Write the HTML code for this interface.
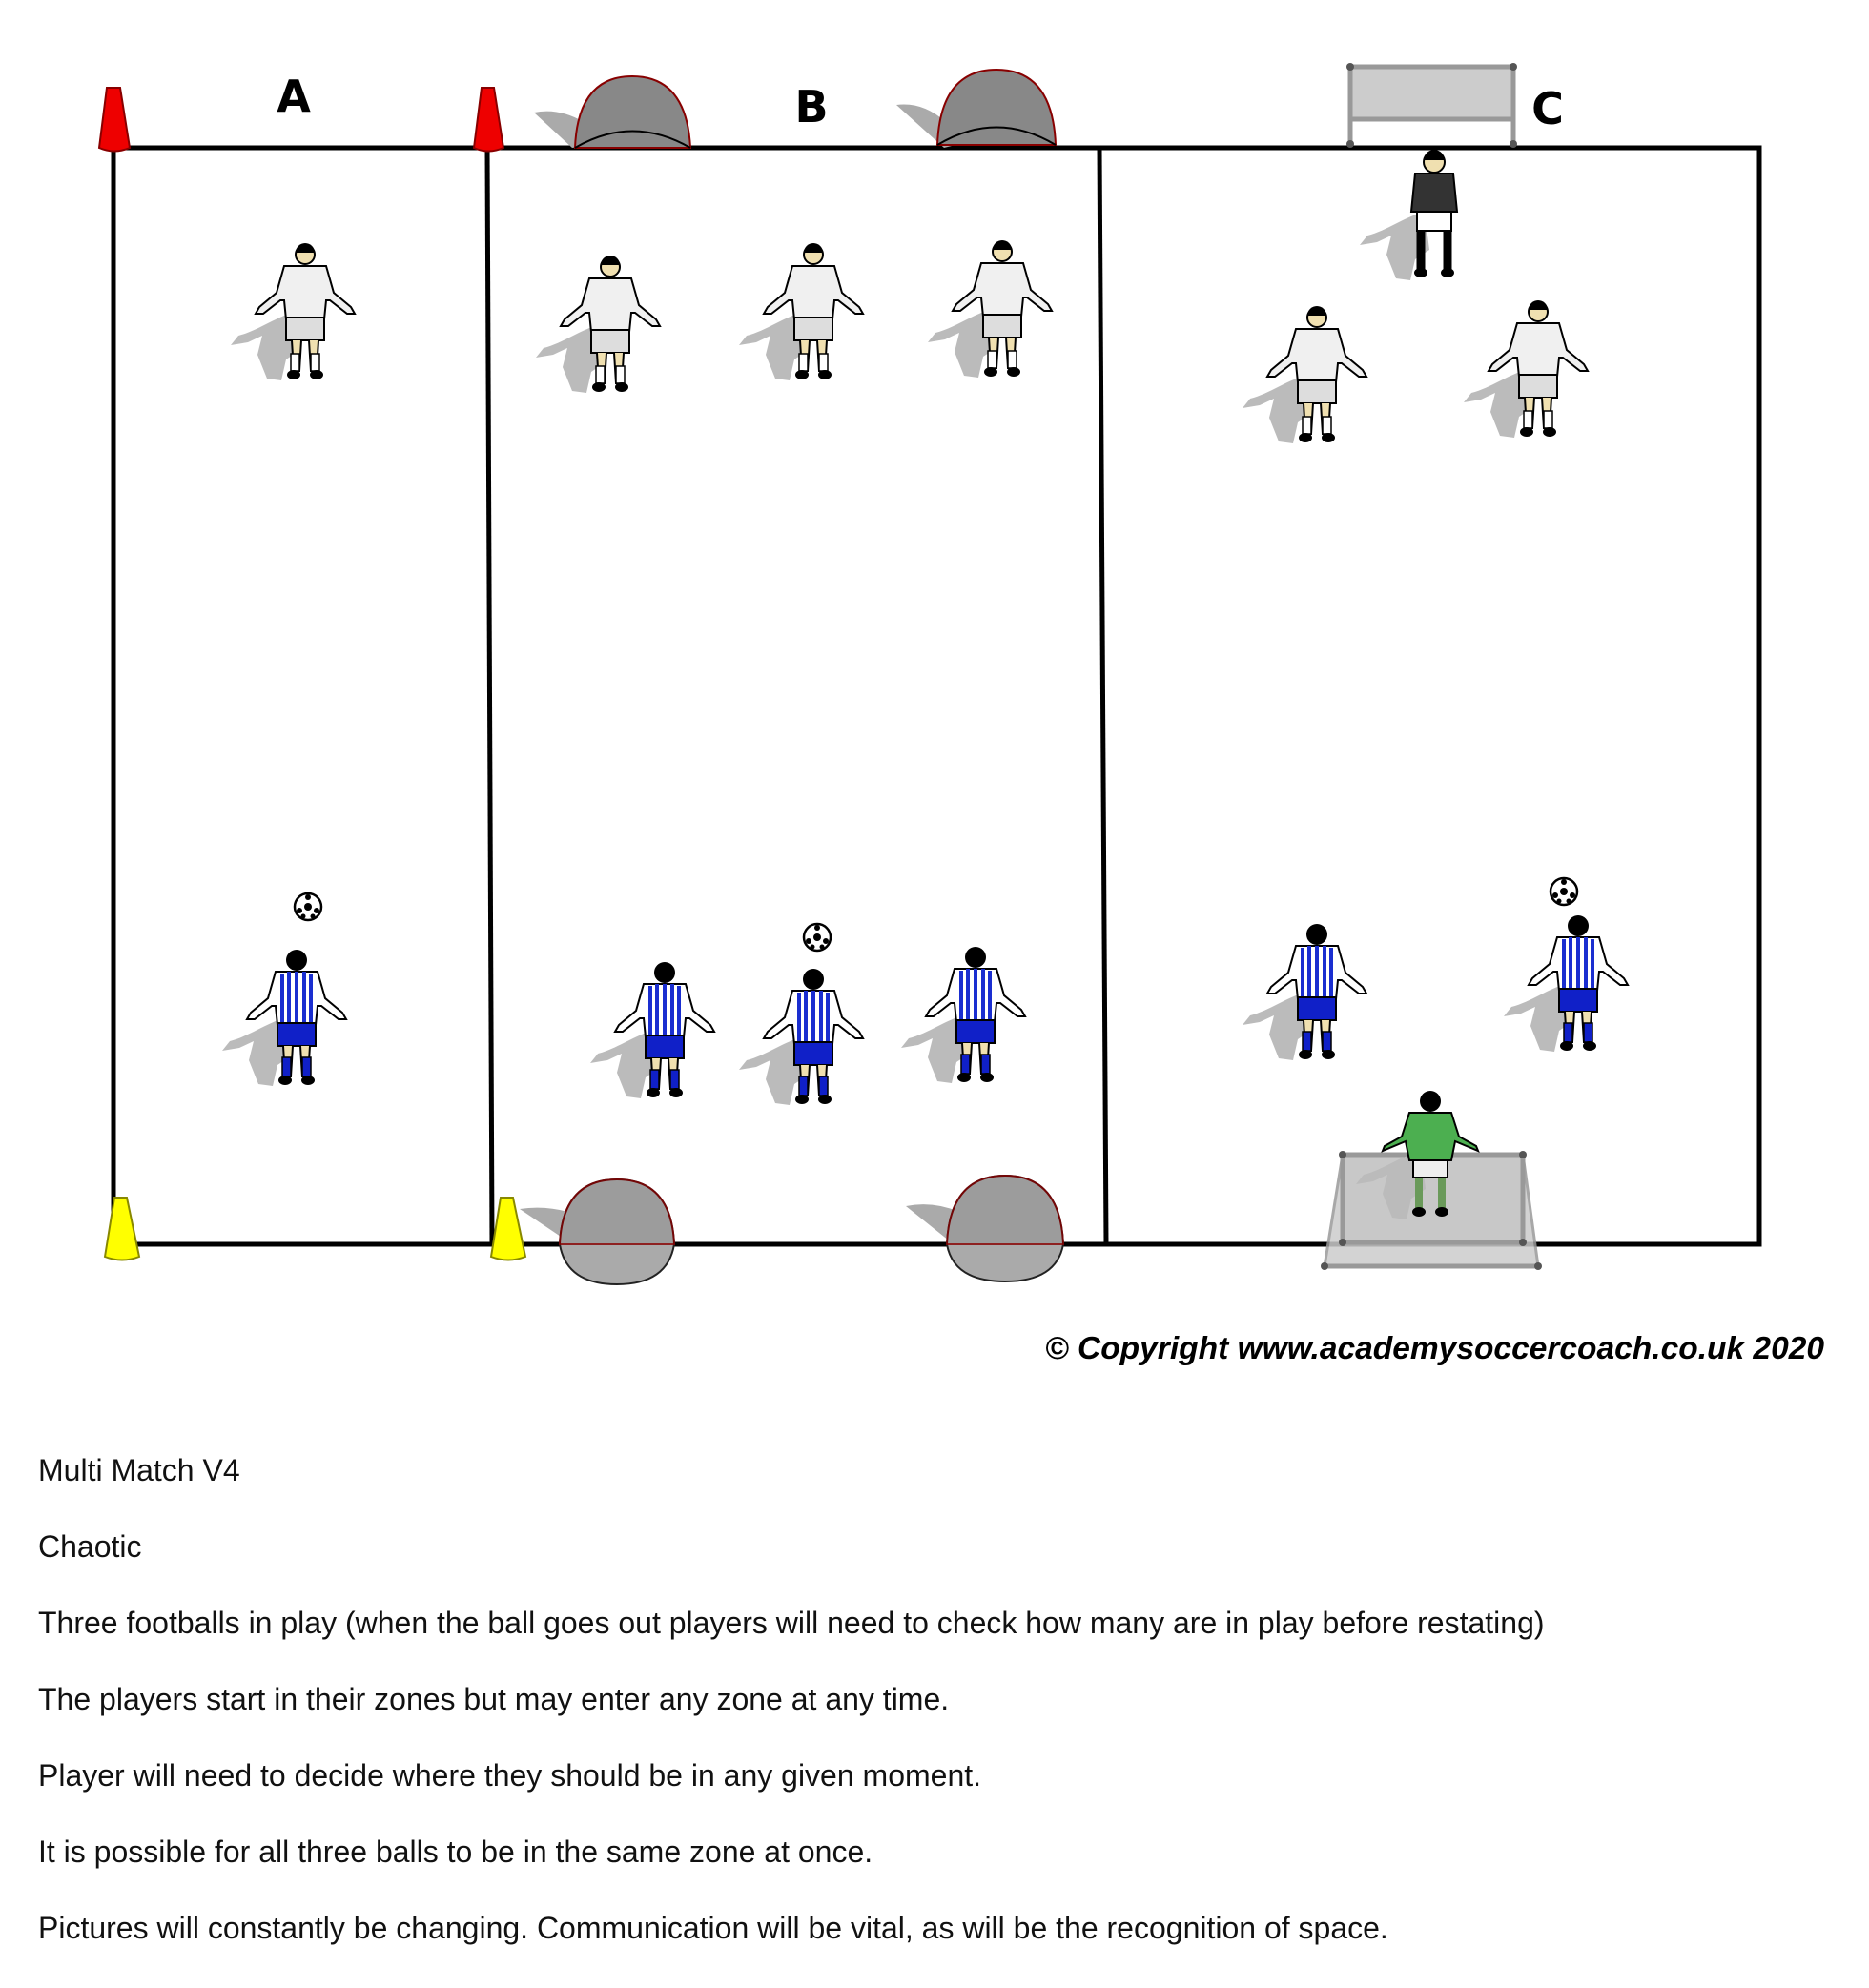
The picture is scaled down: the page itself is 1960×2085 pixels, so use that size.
<!DOCTYPE html>
<html><head><meta charset="utf-8"><style>
body{margin:0;background:#fff;width:1960px;height:2085px;overflow:hidden;font-family:"Liberation Sans",Arial,sans-serif}
svg{position:absolute;left:0;top:0}
.t{position:absolute;left:40px;font-size:32px;color:#111;white-space:nowrap}
</style></head><body>
<svg width="1960" height="1460" viewBox="0 0 1960 1460">
<defs>
<g id="sh"><path d="M-10,0 C-30,5 -50,20 -70,25 L-78,35 L-60,32 L-45,25 L-50,45 L-40,70 L-25,72 L-20,50 L-5,40 Z" fill="#bbb"/></g>
<g id="pw">
<use href="#sh"/>
<path d="M-22,-48 L22,-48 L30,-20 L48,-5 L52,2 L44,2 L26,-12 L22,-12 L20,8 L-20,8 L-22,-12 L-26,-12 L-44,2 L-52,2 L-48,-5 L-30,-20 Z" fill="#f0f0f0" stroke="#000" stroke-width="2"/>
<rect x="-20" y="6" width="40" height="24" fill="#ddd" stroke="#000" stroke-width="2"/>
<path d="M-14,30 L-12,62 L-6,62 L-4,30 M4,30 L6,62 L12,62 L14,30" fill="#f0e0b0" stroke="#000" stroke-width="2"/>
<rect x="-15" y="44" width="9" height="18" fill="#fff" stroke="#000" stroke-width="1.5"/><rect x="6" y="44" width="9" height="18" fill="#fff" stroke="#000" stroke-width="1.5"/>
<ellipse cx="-12" cy="66" rx="7" ry="5"/><ellipse cx="12" cy="66" rx="7" ry="5"/>
<circle cx="0" cy="-60" r="10" fill="#f0e0b0" stroke="#000" stroke-width="2"/><path d="M-10,-62 A10,10 0 0 1 10,-62 Z"/>
</g>
<g id="pb">
<use href="#sh"/>
<path d="M-22,-48 L22,-48 L30,-20 L48,-5 L52,2 L44,2 L26,-12 L22,-12 L20,8 L-20,8 L-22,-12 L-26,-12 L-44,2 L-52,2 L-48,-5 L-30,-20 Z" fill="#fff" stroke="#000" stroke-width="2"/>
<path d="M-15,-46 V8 M-8,-48 V8 M0,-48 V8 M8,-48 V8 M15,-46 V8" stroke="#1a2ed0" stroke-width="4"/>
<rect x="-20" y="6" width="40" height="24" fill="#1020c8" stroke="#000" stroke-width="2"/>
<path d="M-14,30 L-12,62 L-6,62 L-4,30 M4,30 L6,62 L12,62 L14,30" fill="#f0e0b0" stroke="#000" stroke-width="2"/>
<rect x="-15" y="42" width="9" height="20" fill="#1020c8" stroke="#000" stroke-width="1.5"/><rect x="6" y="42" width="9" height="20" fill="#1020c8" stroke="#000" stroke-width="1.5"/>
<ellipse cx="-12" cy="66" rx="7" ry="5"/><ellipse cx="12" cy="66" rx="7" ry="5"/>
<circle cx="0" cy="-60" r="11"/>
</g>
<g id="ball"><circle r="14" fill="#fff" stroke="#000" stroke-width="2.5"/><circle r="4"/><circle cx="0" cy="-10" r="3"/><circle cx="9" cy="4" r="3"/><circle cx="-9" cy="4" r="3"/><circle cx="5" cy="10" r="2.5"/><circle cx="-5" cy="10" r="2.5"/></g>
</defs>
<g stroke="#000" stroke-width="5" fill="none">
<rect x="119" y="155" width="1726" height="1150"/>
<line x1="511" y1="155" x2="516" y2="1305"/>
<line x1="1153" y1="155" x2="1160" y2="1305"/>
</g>
<g font-family="'DejaVu Sans',sans-serif" font-weight="bold" font-size="46" text-anchor="middle">
<text x="308" y="117">A</text><text x="851" y="128">B</text><text x="1623" y="130">C</text></g>
<path d="M104,155 L112,92 L126,92 L136,155 Q120,162 104,155Z" fill="#e00" stroke="#800" stroke-width="2"/>
<path d="M497,155 L505,92 L518,92 L528,155 Q512,162 497,155Z" fill="#e00" stroke="#800" stroke-width="2"/>
<path d="M110,1318 L120,1256 L133,1256 L146,1318 Q128,1325 110,1318Z" fill="#ff0" stroke="#880" stroke-width="2"/>
<path d="M515,1318 L525,1256 L538,1256 L551,1318 Q533,1325 515,1318Z" fill="#ff0" stroke="#880" stroke-width="2"/>
<path d="M560,118 Q600,110 640,150 L600,155 Z" fill="#aaa"/>
<path d="M603,155 Q606,80 663,80 Q720,80 724,155 Z" fill="#888" stroke="#800" stroke-width="2"/>
<path d="M603,155 Q663,120 724,155" fill="none" stroke="#000" stroke-width="2"/>
<path d="M940,110 Q980,105 1010,150 L990,155 Z" fill="#aaa"/>
<path d="M983,152 Q986,73 1045,73 Q1104,73 1107,152 Z" fill="#888" stroke="#800" stroke-width="2"/>
<path d="M983,152 Q1045,115 1107,152" fill="none" stroke="#000" stroke-width="2"/>
<path d="M545,1268 Q600,1260 650,1300 L600,1305 Z" fill="#aaa"/>
<path d="M587,1305 Q590,1237 647,1237 Q704,1237 707,1305 Q700,1347 647,1347 Q594,1347 587,1305Z" fill="#aaa" stroke="#222" stroke-width="2"/>
<path d="M587,1305 Q590,1237 647,1237 Q704,1237 707,1305 Z" fill="#999" stroke="#800" stroke-width="2" opacity=".8"/>
<path d="M950,1265 Q1000,1255 1050,1300 L1000,1305 Z" fill="#aaa"/>
<path d="M993,1305 Q996,1233 1054,1233 Q1112,1233 1115,1305 Q1108,1344 1054,1344 Q1000,1344 993,1305Z" fill="#aaa" stroke="#222" stroke-width="2"/>
<path d="M993,1305 Q996,1233 1054,1233 Q1112,1233 1115,1305 Z" fill="#999" stroke="#800" stroke-width="2" opacity=".8"/>
<g stroke="#999" stroke-width="5" fill="#ccc"><rect x="1416" y="70" width="171" height="55"/><line x1="1416" y1="70" x2="1416" y2="153"/><line x1="1587" y1="70" x2="1587" y2="153"/></g>
<g fill="#555"><circle cx="1416" cy="70" r="4"/><circle cx="1587" cy="70" r="4"/><circle cx="1416" cy="151" r="4"/><circle cx="1587" cy="151" r="4"/></g>
<path d="M1408,1211 L1597,1211 L1613,1328 L1389,1328 Z" fill="#ccc" stroke="#999" stroke-width="3" opacity=".85"/>
<rect x="1408" y="1211" width="189" height="92" fill="#c8c8c8" stroke="#999" stroke-width="5"/>
<line x1="1389" y1="1328" x2="1613" y2="1328" stroke="#999" stroke-width="5"/>
<g fill="#555"><circle cx="1408" cy="1211" r="4"/><circle cx="1597" cy="1211" r="4"/><circle cx="1408" cy="1303" r="4"/><circle cx="1597" cy="1303" r="4"/><circle cx="1389" cy="1328" r="4"/><circle cx="1613" cy="1328" r="4"/></g>
<use href="#pw" x="320" y="327"/><use href="#pw" x="640" y="340"/><use href="#pw" x="853" y="327"/><use href="#pw" x="1051" y="324"/><use href="#pw" x="1381" y="393"/><use href="#pw" x="1613" y="387"/>
<g transform="translate(1504,222)"><use href="#sh"/>
<path d="M-20,-40 L20,-40 L24,0 L-24,0 Z" fill="#333" stroke="#000" stroke-width="2"/>
<rect x="-18" y="0" width="36" height="20" fill="#fff" stroke="#000" stroke-width="2"/>
<path d="M-14,20 V62 M14,20 V62" stroke="#000" stroke-width="9"/><ellipse cx="-14" cy="64" rx="7" ry="5"/><ellipse cx="14" cy="64" rx="7" ry="5"/>
<circle cx="0" cy="-52" r="11" fill="#f0e0b0" stroke="#000" stroke-width="2"/><path d="M-11,-54 A11,11 0 0 1 11,-54 Z"/></g>
<use href="#pb" x="311" y="1067"/><use href="#pb" x="697" y="1080"/><use href="#pb" x="853" y="1087"/><use href="#pb" x="1023" y="1064"/><use href="#pb" x="1381" y="1040"/><use href="#pb" x="1655" y="1031"/>
<g transform="translate(1500,1207)"><use href="#sh"/>
<path d="M-22,-40 L22,-40 L30,-15 L48,-5 L50,0 L26,-10 L22,10 L-22,10 L-26,-10 L-50,0 L-48,-5 L-30,-15 Z" fill="#4caf50" stroke="#000" stroke-width="2"/>
<rect x="-18" y="10" width="36" height="18" fill="#eee" stroke="#000" stroke-width="2"/>
<path d="M-12,28 V62 M12,28 V62" stroke="#6a9a5a" stroke-width="8"/><ellipse cx="-12" cy="64" rx="7" ry="5"/><ellipse cx="12" cy="64" rx="7" ry="5"/>
<circle cx="0" cy="-52" r="11"/></g>
<use href="#ball" x="323" y="951"/><use href="#ball" x="857" y="983"/><use href="#ball" x="1640" y="935"/>
<text x="1913" y="1425" text-anchor="end" font-family="'Liberation Sans',sans-serif" font-weight="bold" font-style="italic" font-size="33" textLength="817" lengthAdjust="spacingAndGlyphs">© Copyright www.academysoccercoach.co.uk 2020</text>
</svg>
<div class="t" style="top:1524px">Multi Match V4</div>
<div class="t" style="top:1604px">Chaotic</div>
<div class="t" style="top:1684px">Three footballs in play (when the ball goes out players will need to check how many are in play before restating)</div>
<div class="t" style="top:1764px">The players start in their zones but may enter any zone at any time.</div>
<div class="t" style="top:1844px">Player will need to decide where they should be in any given moment.</div>
<div class="t" style="top:1924px">It is possible for all three balls to be in the same zone at once.</div>
<div class="t" style="top:2004px">Pictures will constantly be changing. Communication will be vital, as will be the recognition of space.</div>
</body></html>
